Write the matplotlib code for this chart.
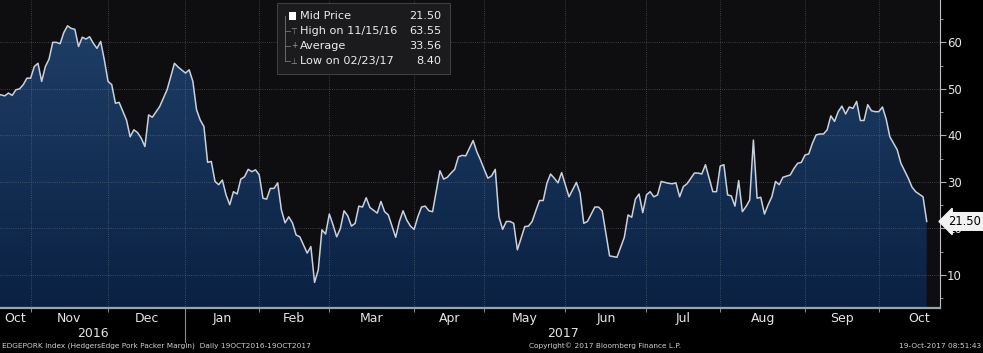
import numpy as np
import pandas as pd
import matplotlib
matplotlib.use("Agg")
from matplotlib import pyplot as plt
from matplotlib import transforms
from matplotlib.patches import Rectangle
from matplotlib.colors import LinearSegmentedColormap

# exchange holidays (no prints on these days)
holidays = ["2016-11-24", "2016-12-26", "2017-01-02", "2017-01-16", "2017-02-20",
            "2017-04-14", "2017-05-29", "2017-07-04", "2017-09-04"]

dates = [
    "2016-10-19", "2016-10-21", "2016-10-24", "2016-10-25", "2016-10-26", "2016-10-27", "2016-10-28",
    "2016-10-31", "2016-11-01", "2016-11-02", "2016-11-03", "2016-11-04", "2016-11-07", "2016-11-08",
    "2016-11-09", "2016-11-10", "2016-11-11", "2016-11-14", "2016-11-15", "2016-11-16", "2016-11-17",
    "2016-11-18", "2016-11-21", "2016-11-22", "2016-11-23", "2016-11-25", "2016-11-28", "2016-11-29",
    "2016-11-30", "2016-12-01", "2016-12-02", "2016-12-05", "2016-12-06", "2016-12-08", "2016-12-09",
    "2016-12-12", "2016-12-13", "2016-12-14", "2016-12-15", "2016-12-16", "2016-12-19", "2016-12-21",
    "2016-12-22", "2016-12-23", "2016-12-27", "2016-12-28", "2016-12-29", "2017-01-03", "2017-01-04",
    "2017-01-05", "2017-01-06", "2017-01-09", "2017-01-10", "2017-01-11", "2017-01-12", "2017-01-13",
    "2017-01-17", "2017-01-18", "2017-01-19", "2017-01-20", "2017-01-23", "2017-01-24", "2017-01-25",
    "2017-01-26", "2017-01-27", "2017-01-30", "2017-01-31", "2017-02-01", "2017-02-02", "2017-02-03",
    "2017-02-06", "2017-02-07", "2017-02-08", "2017-02-09", "2017-02-10", "2017-02-13", "2017-02-14",
    "2017-02-15", "2017-02-16", "2017-02-21", "2017-02-22", "2017-02-23", "2017-02-24", "2017-02-27",
    "2017-02-28", "2017-03-01", "2017-03-02", "2017-03-03", "2017-03-06", "2017-03-07", "2017-03-08",
    "2017-03-09", "2017-03-10", "2017-03-13", "2017-03-14", "2017-03-15", "2017-03-16", "2017-03-20",
    "2017-03-21", "2017-03-22", "2017-03-23", "2017-03-27", "2017-03-28", "2017-03-29", "2017-03-30",
    "2017-03-31", "2017-04-03", "2017-04-04", "2017-04-05", "2017-04-06", "2017-04-07", "2017-04-10",
    "2017-04-12", "2017-04-13", "2017-04-17", "2017-04-18", "2017-04-19", "2017-04-20", "2017-04-21",
    "2017-04-24", "2017-04-26", "2017-04-27", "2017-04-28", "2017-05-01", "2017-05-02", "2017-05-03",
    "2017-05-04", "2017-05-05", "2017-05-08", "2017-05-09", "2017-05-10", "2017-05-11", "2017-05-12",
    "2017-05-15", "2017-05-16", "2017-05-17", "2017-05-18", "2017-05-19", "2017-05-22", "2017-05-23",
    "2017-05-24", "2017-05-25", "2017-05-26", "2017-05-30", "2017-05-31", "2017-06-02", "2017-06-06",
    "2017-06-07", "2017-06-08", "2017-06-09", "2017-06-13", "2017-06-14", "2017-06-15", "2017-06-19",
    "2017-06-21", "2017-06-23", "2017-06-26", "2017-06-27", "2017-06-28", "2017-06-29", "2017-06-30",
    "2017-07-03", "2017-07-05", "2017-07-06", "2017-07-07", "2017-07-10", "2017-07-12", "2017-07-13",
    "2017-07-14", "2017-07-17", "2017-07-18", "2017-07-19", "2017-07-21", "2017-07-24", "2017-07-25",
    "2017-07-26", "2017-07-28", "2017-07-31", "2017-08-01", "2017-08-02", "2017-08-03", "2017-08-04",
    "2017-08-07", "2017-08-08", "2017-08-09", "2017-08-10", "2017-08-11", "2017-08-14", "2017-08-15",
    "2017-08-16", "2017-08-17", "2017-08-18", "2017-08-21", "2017-08-22", "2017-08-23", "2017-08-24",
    "2017-08-28", "2017-08-29", "2017-08-30", "2017-08-31", "2017-09-01", "2017-09-05", "2017-09-06",
    "2017-09-07", "2017-09-08", "2017-09-11", "2017-09-12", "2017-09-13", "2017-09-14", "2017-09-15",
    "2017-09-18", "2017-09-19", "2017-09-20", "2017-09-21", "2017-09-22", "2017-09-25", "2017-09-26",
    "2017-09-27", "2017-09-28", "2017-09-29", "2017-10-02", "2017-10-03", "2017-10-04", "2017-10-05",
    "2017-10-09", "2017-10-10", "2017-10-12", "2017-10-13", "2017-10-16", "2017-10-18", "2017-10-19",
]

prices = [
    48.9, 48.5, 49.1, 48.6, 49.8, 50.0, 50.9,
    52.3, 52.3, 54.8, 55.5, 51.6, 54.8, 56.4,
    60.0, 60.0, 59.7, 62.1, 63.55, 63.0, 62.8,
    59.1, 61.1, 60.7, 61.2, 59.8, 58.7, 60.2,
    56.2, 51.6, 50.9, 46.9, 47.1, 43.3, 39.7,
    41.2, 40.6, 39.4, 37.6, 44.4, 43.9, 46.2,
    48.0, 49.8, 52.6, 55.5, 54.7, 53.4, 54.1,
    51.6, 45.5, 43.3, 41.9, 34.2, 34.4, 30.1,
    29.4, 30.4, 27.2, 25.1, 27.9, 27.4, 30.6,
    31.1, 32.7, 32.2, 32.6, 31.5, 26.5, 26.3,
    28.6, 28.6, 29.8, 24.0, 21.2, 22.5, 21.2,
    18.6, 18.2, 14.7, 16.1, 8.40, 11.1, 19.7,
    18.8, 23.1, 20.8, 18.2, 20.0, 23.8, 22.7,
    20.5, 21.1, 24.8, 24.6, 26.6, 24.5, 23.3,
    25.8, 23.6, 22.9, 18.1, 21.5, 23.8, 21.8,
    20.5, 19.8, 22.5, 24.6, 24.8, 23.8, 23.6,
    32.4, 30.6, 31.0, 31.9, 32.7, 35.4, 35.7,
    35.6, 38.9, 36.5, 34.7, 32.7, 30.8, 31.3,
    32.7, 22.5, 19.8, 21.5, 21.5, 21.1, 15.4,
    17.9, 20.4, 20.5, 21.5, 23.8, 26.0, 26.0,
    29.7, 31.7, 30.8, 29.8, 32.0, 26.8, 29.9,
    27.6, 21.1, 21.5, 24.6, 24.6, 23.8, 14.1,
    13.8, 18.1, 22.9, 22.4, 26.3, 27.4, 23.4,
    27.2, 27.9, 26.8, 27.2, 30.1, 29.7, 29.6,
    29.8, 26.8, 29.0, 29.6, 31.9, 31.9, 31.7,
    33.7, 27.9, 27.9, 33.4, 33.7, 27.2, 27.0,
    24.8, 30.3, 23.6, 24.7, 26.1, 39.0, 26.5,
    26.7, 23.1, 25.1, 26.8, 30.1, 29.4, 31.0,
    31.5, 32.9, 34.0, 34.2, 35.8, 36.0, 38.3,
    40.1, 40.3, 40.3, 41.2, 44.2, 43.0, 45.1,
    46.3, 44.6, 46.1, 45.8, 47.3, 43.2, 43.2,
    46.6, 45.3, 45.1, 45.1, 46.1, 43.5, 39.7,
    36.9, 34.0, 30.8, 28.9, 27.9, 26.8, 21.50,
]

legend_rows = [("Mid Price", "21.50"), ("High on 11/15/16", "63.55"),
               ("Average", "33.56"), ("Low on 02/23/17", "8.40")]
last_price = "21.50"
y_ticks = [10, 20, 30, 40, 50, 60]

# session calendar (no gaps for weekends/holidays), run to end of Oct for label spacing
sessions = pd.bdate_range("2016-10-19", "2017-10-31", freq="C", holidays=holidays)
pos = sessions.get_indexer(pd.to_datetime(dates))
vals = np.array(prices)

idx = pd.Series(np.arange(len(sessions)), index=sessions)
firsts = idx.groupby([sessions.year, sessions.month]).first()
lasts = idx.groupby([sessions.year, sessions.month]).last()

W, H = 983, 353
fig = plt.figure(figsize=(W / 100, H / 100), dpi=100, facecolor="black")
ax = fig.add_axes([0, 1 - 308 / H, 940 / W, 308 / H])
ax.set_facecolor("#0e0d10")
x_lo, x_hi = 0.7, 255.6
y_lo, y_hi = 2.9, 69.1
ax.set_xlim(x_lo, x_hi)
ax.set_ylim(y_lo, y_hi)

# gradient area under the line
cmap = LinearSegmentedColormap.from_list("fill", ["#0a2142", "#1f3f68"])
grad = np.linspace(0, 1, 256).reshape(-1, 1)
img = ax.imshow(grad, cmap=cmap, aspect="auto", origin="lower",
                extent=[x_lo, x_hi, y_lo, 66], zorder=1)
poly = ax.fill_between(pos, vals, y_lo, facecolor="none", edgecolor="none")
img.set_clip_path(poly.get_paths()[0], transform=ax.transData)
ax.plot(pos, vals, color="#c9d1dd", lw=1.1, zorder=4)

# grid
grid_kw = dict(color="#8d939c", lw=0.6, ls=(0, (1, 1.6)), alpha=0.5, zorder=3)
for v in y_ticks:
    ax.axhline(v, **grid_kw)
month_starts = [p for p in firsts.values if x_lo < p < x_hi]
for p in month_starts:
    ax.axvline(p, **grid_kw)

# right axis
ax.yaxis.tick_right()
ax.set_yticks(y_ticks)
ax.set_yticks(np.arange(5, 70, 5), minor=True)
ax.tick_params(axis="y", which="major", length=4, width=0.8, color="#b0b0b0",
               labelcolor="#e6e6e6", labelsize=8.5, pad=1)
ax.tick_params(axis="y", which="minor", length=2, width=0.6, color="#b0b0b0")
for side in ["top", "left"]:
    ax.spines[side].set_visible(False)
ax.spines["right"].set_color("#c0c0c0")
ax.spines["right"].set_linewidth(0.8)
ax.spines["bottom"].set_color("#9da3ab")
ax.spines["bottom"].set_linewidth(1.6)
ax.set_xticks(month_starts)
ax.set_xticklabels([])
ax.tick_params(axis="x", length=3, width=0.6, color="#9da3ab")

# month and year labels
xt = ax.get_xaxis_transform()
keys = list(firsts.index)
for i, (yr, mo) in enumerate(keys):
    start = max(firsts[(yr, mo)], x_lo)
    end = firsts[keys[i + 1]] if i + 1 < len(keys) else lasts[(yr, mo)] + 1
    name = pd.Timestamp(year=yr, month=mo, day=1).strftime("%b")
    ax.text((start + end) / 2, -0.033, name, transform=xt, ha="center", va="center",
            color="#e6e6e6", fontsize=9, clip_on=False)
jan = firsts[(2017, 1)]
ax.text((x_lo + jan) / 2, -0.083, "2016", transform=xt, ha="center", va="center",
        color="#e6e6e6", fontsize=9)
ax.text((jan + x_hi) / 2, -0.083, "2017", transform=xt, ha="center", va="center",
        color="#e6e6e6", fontsize=9)
ax.plot([jan, jan], [0, -0.11], transform=xt, color="#8a8a8a", lw=0.8, clip_on=False)

# last price tag (sits over the 20 label, as in the terminal view)
yt = transforms.blended_transform_factory(ax.transAxes, ax.transData)
ax.text(1.009, vals[-1], last_price, transform=yt, ha="left", va="center", fontsize=8.3,
        color="black", bbox=dict(boxstyle="larrow,pad=0.2", fc="#f2f2f2", ec="#f2f2f2"),
        zorder=6)

# legend panel
def fx(px):
    return px / W


def fy(py):
    return 1 - py / H


fig.patches.append(Rectangle((fx(277), fy(74)), fx(173), 71 / H, transform=fig.transFigure,
                             fc="#1b1b1d", ec="#4a4a4a", lw=0.6, zorder=5))
row_y = [16, 31, 46, 61]
fig.add_artist(plt.Line2D([fx(285), fx(285)], [fy(row_y[0]), fy(row_y[-1])],
                          color="#777777", lw=0.6, transform=fig.transFigure, zorder=6))
for ry in row_y[1:]:
    fig.add_artist(plt.Line2D([fx(285), fx(290)], [fy(ry), fy(ry)], color="#777777", lw=0.6,
                              transform=fig.transFigure, zorder=6))
fig.patches.append(Rectangle((fx(289), fy(row_y[0] + 3.5)), fx(7), 7 / H,
                             transform=fig.transFigure, fc="white", ec="none", zorder=6))
for sym, ry in zip(["\u22a4", "+", "\u22a5"], row_y[1:]):
    fig.text(fx(294), fy(ry), sym, color="#999999", fontsize=5.5, ha="center", va="center",
             zorder=7)
for (lab, val), ry in zip(legend_rows, row_y):
    fig.text(fx(300), fy(ry), lab, color="#ececec", fontsize=8.1, ha="left", va="center",
             zorder=7)
    fig.text(fx(441), fy(ry), val, color="#ececec", fontsize=8.1, ha="right", va="center",
             zorder=7)

# footer
foot_kw = dict(color="#d0d0d0", fontsize=5.3, va="center")
fig.text(fx(2), fy(346), "EDGEPORK Index (HedgersEdge Pork Packer Margin)  Daily 19OCT2016-19OCT2017",
         ha="left", **foot_kw)
fig.text(fx(529), fy(346), "Copyright\u00a9 2017 Bloomberg Finance L.P.", ha="left", **foot_kw)
fig.text(fx(981), fy(346), "19-Oct-2017 08:51:43", ha="right", **foot_kw)

fig.savefig("out.png", dpi=100, facecolor="black")
